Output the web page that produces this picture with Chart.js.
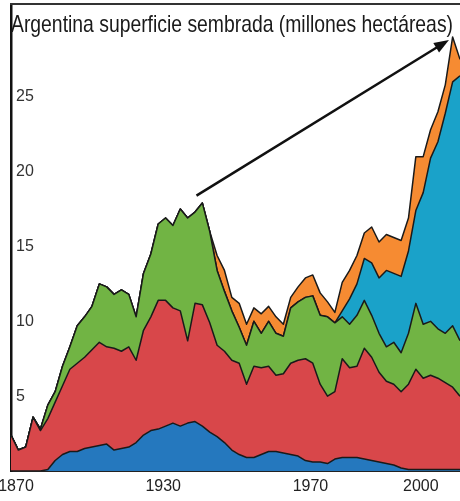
<!DOCTYPE html>
<html><head><meta charset="utf-8">
<script src="https://cdn.jsdelivr.net/npm/chart.js@4"></script>
<style>html,body{margin:0;padding:0;background:#fff;}#wrap{width:460px;height:501px;position:relative;}</style>
</head><body><div id="wrap"><canvas id="c" width="460" height="501"></canvas></div>
<script>
const titleText = 'Argentina superficie sembrada (millones hectáreas)';
const years = ['1870','1873','1876','1879','1882','1885','1888','1891','1894','1897',
  '1900','1903','1906','1909','1912','1915','1918','1921','1924','1927','1930',
  '1932','1934','1936','1938','1940','1942','1944','1946','1948','1950',
  '1952','1954','1956','1958','1960','1962','1964','1966','1968','1970',
  '1972','1974','1976','1978','1980','1982','1984','1986','1988','1990',
  '1992','1994','1996','1998','2000','2002','2004','2006','2008','2010','2012'];
const xTickLabels = ['1870','1930','1970','2000'];
const yTickValues = [5, 10, 15, 20, 25];
const blue = [0,0,0,0,0,0.1,0.7,1.1,1.3,1.3,
  1.5,1.6,1.7,1.8,1.4,1.5,1.6,1.9,2.4,2.7,2.8,
  3.0,3.2,3.0,3.2,3.3,3.0,2.6,2.3,1.9,1.4,
  1.1,0.9,0.9,1.1,1.3,1.3,1.2,1.1,1.0,0.7,
  0.6,0.6,0.5,0.8,0.9,0.9,0.9,0.8,0.7,0.6,
  0.5,0.4,0.2,0.1,0.1,0.1,0.1,0.1,0.1,0.1,0.1];
const red = [2.4,1.4,1.6,3.6,2.7,3.4,3.9,4.6,5.5,5.9,
  6.1,6.5,6.9,6.5,6.8,6.5,6.7,5.5,7.0,7.6,8.6,
  8.4,7.7,7.7,5.5,7.9,8.1,7.3,6.1,6.1,6.0,
  6.1,4.9,6.1,5.8,5.7,5.1,5.3,6.1,6.4,6.8,
  6.6,5.2,4.5,4.5,6.6,6.0,6.1,7.4,6.9,6.0,
  5.5,5.4,5.1,5.7,6.7,6.1,6.3,6.1,5.8,5.5,4.9];
const green = [0,0,0,0,0.1,0.9,0.7,1.3,1.5,2.5,
  2.7,2.9,3.9,4.0,3.6,4.1,3.5,2.9,3.8,4.2,5.1,
  5.5,5.5,6.8,8.2,6.1,6.8,6.1,5.0,4.0,3.3,
  2.4,2.6,3.0,2.3,3.0,2.8,2.5,3.7,3.9,4.1,
  4.5,4.6,5.3,4.6,2.8,2.9,3.4,3.2,2.8,2.6,
  2.3,2.8,2.6,3.4,4.4,3.6,3.6,3.3,3.3,4.1,3.7];
const teal = [0,0,0,0,0,0,0,0,0,0,
  0,0,0,0,0,0,0,0,0,0,0,
  0,0,0,0,0,0,0,0,0,0,
  0,0,0,0,0,0,0,0,0,0,
  0,0,0,0,0.4,1.7,2.1,2.8,3.5,3.7,
  5.1,4.6,5.1,5.5,6.2,8.8,10.9,12.5,14.7,16.3,17.7];
const orange = [0,0,0,0,0,0,0,0,0,0,
  0,0,0,0,0,0,0,0,0,0,0,
  0,0,0,0,0,0,0,1.0,1.4,0.9,
  1.6,1.4,0.9,1.3,1.0,1.1,0.8,0.7,1.0,1.3,
  1.4,1.5,1.0,0.7,1.9,1.9,1.9,1.7,2.4,2.4,
  2.4,2.4,2.4,2.2,3.6,2.4,1.9,2.0,1.9,3.0,1.1];
const arrowFrom = {x: 25.2, y: 18.4};
const arrowTo = {x: 59.5, y: 28.8};

const FONT = '"Liberation Sans", Arial, sans-serif';

function ds(data, color, fill) {
  return { data, backgroundColor: color, borderColor: '#1a1a1a', borderWidth: 1.5,
    pointRadius: 0, fill, tension: 0, borderJoinStyle: 'round' };
}

function noPad(axis) { axis.paddingTop = 0; axis.paddingBottom = 0; axis.paddingLeft = 0; axis.paddingRight = 0; }

const overlay = {
  id: 'overlay',
  afterDatasetsDraw(chart) {
    const {ctx, chartArea, scales} = chart;
    const x1 = scales.x.getPixelForValue(arrowFrom.x), y1 = scales.y.getPixelForValue(arrowFrom.y);
    const x2 = scales.x.getPixelForValue(arrowTo.x), y2 = scales.y.getPixelForValue(arrowTo.y);
    const ang = Math.atan2(y2 - y1, x2 - x1);
    const hl = 15, hw = 5.5;
    ctx.save();
    ctx.strokeStyle = '#111'; ctx.fillStyle = '#111'; ctx.lineWidth = 2.5;
    ctx.beginPath(); ctx.moveTo(x1, y1);
    ctx.lineTo(x2 - Math.cos(ang) * hl * 0.8, y2 - Math.sin(ang) * hl * 0.8); ctx.stroke();
    ctx.beginPath(); ctx.moveTo(x2, y2);
    ctx.lineTo(x2 - Math.cos(ang) * hl - Math.sin(ang) * hw, y2 - Math.sin(ang) * hl + Math.cos(ang) * hw);
    ctx.lineTo(x2 - Math.cos(ang) * hl + Math.sin(ang) * hw, y2 - Math.sin(ang) * hl - Math.cos(ang) * hw);
    ctx.closePath(); ctx.fill();
    // frame top line
    ctx.strokeStyle = '#333'; ctx.lineWidth = 2;
    ctx.beginPath(); ctx.moveTo(chartArea.left - 1, chartArea.top); ctx.lineTo(chart.width, chartArea.top); ctx.stroke();
    // title (condensed)
    ctx.fillStyle = '#1a1a1a';
    ctx.font = '24px ' + FONT;
    ctx.textBaseline = 'alphabetic';
    const w = ctx.measureText(titleText).width;
    const sx = 442 / w;
    ctx.translate(chartArea.left, chartArea.top + 28);
    ctx.scale(sx, 1);
    ctx.fillText(titleText, 0, 0);
    ctx.restore();
  }
};

new Chart(document.getElementById('c'), {
  type: 'line',
  data: {
    labels: years,
    datasets: [
      ds(blue, '#2578be', 'origin'),
      ds(red, '#d8474a', '-1'),
      ds(green, '#71b444', '-1'),
      ds(teal, '#1aa2c9', '-1'),
      ds(orange, '#f68b32', '-1')
    ]
  },
  options: {
    responsive: false, animation: false, devicePixelRatio: 1,
    layout: { padding: { left: 11, right: 0, top: 4, bottom: 5 } },
    plugins: { legend: { display: false }, tooltip: { enabled: false }, title: { display: false } },
    scales: {
      x: {
        type: 'category',
        afterFit(axis) { noPad(axis); axis.height = 25; },
        grid: { display: false, drawTicks: false },
        border: { display: true, color: '#222', width: 2 },
        ticks: {
          autoSkip: false, maxRotation: 0, minRotation: 0, labelOffset: 5, padding: 6,
          color: '#222', font: { family: FONT, size: 16 },
          callback(v, i) { return xTickLabels.includes(years[i]) ? years[i] : ''; }
        }
      },
      y: {
        stacked: true, min: 0, max: 31.2,
        afterFit(axis) { noPad(axis); axis.width = 0; },
        grid: { display: false, drawTicks: false },
        border: { display: true, color: '#111', width: 2.5 },
        afterBuildTicks(axis) { axis.ticks = yTickValues.map(v => ({ value: v })); },
        ticks: { mirror: true, padding: 5, color: '#333', font: { family: FONT, size: 16 } }
      }
    }
  },
  plugins: [overlay]
});
</script></body></html>
